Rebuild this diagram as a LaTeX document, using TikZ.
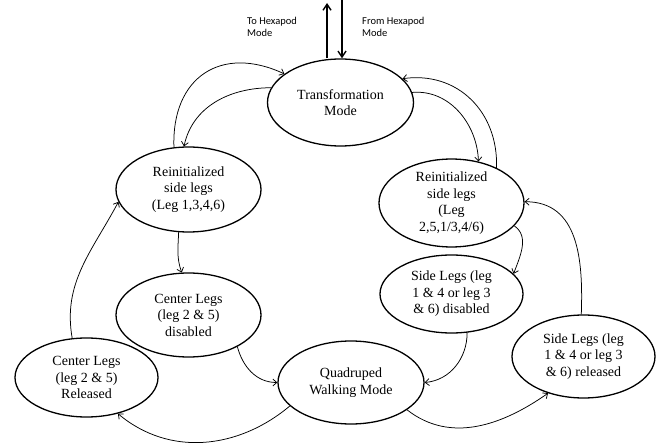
\documentclass[tikz,border=0pt]{standalone}
\usepackage{fontspec}
\setmainfont{Liberation Serif}
\newfontfamily\statefont{Liberation Serif}
\newfontfamily\labelfont{Carlito}
\usetikzlibrary{arrows.meta,shapes.geometric}

\tikzset{
  state/.style={draw, ellipse, line width=1.3pt, inner sep=0pt, align=center,
    font=\statefont\fontsize{14}{16.5}\selectfont},
  link/.style={line width=0.75pt, -{Straight Barb[length=4pt,width=7pt]}},
  modearrow/.style={line width=1.4pt, -{Straight Barb[length=6pt,width=8pt]}},
  modelabel/.style={anchor=north west, inner sep=0pt, align=left,
    font=\labelfont\fontsize{10.5}{12}\selectfont}
}

\begin{document}
\begin{tikzpicture}[x=1pt,y=1pt]
  \useasboundingbox (0,0) rectangle (664,-446);

  % states
  \node[state, minimum width=146pt, minimum height=87pt] (T)  at (340.5,-102.5) {Transformation\\Mode};
  \node[state, minimum width=145pt, minimum height=85pt] (L1) at (188.5,-189.5) {Reinitialized\\side legs\\(Leg 1,3,4,6)};
  \node[state, minimum width=145pt, minimum height=82pt] (R1) at (451.5,-203)   {Reinitialized\\side legs\\(Leg\\2,5,1/3,4/6)};
  \node[state, minimum width=145pt, minimum height=84pt] (C1) at (188.5,-315)   {Center Legs\\(leg 2 \& 5)\\disabled};
  \node[state, minimum width=143pt, minimum height=79pt] (C2) at (86.5,-377.5)  {Center Legs\\(leg 2 \& 5)\\Released};
  \node[state, minimum width=146pt, minimum height=83pt] (Q)  at (351,-382.5)   {Quadruped\\Walking Mode};
  \node[state, minimum width=143pt, minimum height=78pt] (S1) at (451.5,-294)   {Side Legs (leg\\1 \& 4 or leg 3\\\& 6) disabled};
  \node[state, minimum width=143pt, minimum height=83pt] (S2) at (583.5,-356.5)  {Side Legs (leg\\1 \& 4 or leg 3\\\& 6) released};

  % links to and from hexapod mode
  \coordinate (toHex)   at (327,-3);
  \coordinate (fromHex) at (342,0);
  \draw[modearrow] (toHex |- T.north) -- (toHex);
  \draw[modearrow] (fromHex) -- (fromHex |- T.north);
  \node[modelabel] (toLabel)   at (247,-17) {To Hexapod\\Mode};
  \node[modelabel] (fromLabel) at (362,-17) {From Hexapod\\Mode};

  % transitions
  \draw[link] (L1.109) to[out=92, in=155, looseness=1.35] (T.153);
  \draw[link] (T.168)  to[out=180, in=78] (L1.96);
  \draw[link] (T.8)    to[out=5, in=92] (R1.57);
  \draw[link] (R1.38)  to[out=88, in=8, looseness=1.1] (T.21);
  \draw[link] (L1.257) to[out=268, in=110] (C1.99);
  \draw[link] (C1.327) to[out=-75, in=180] (Q.180);
  \draw[link] (Q.201)  to[out=-140, in=-40] (C2.311);
  \draw[link] (C2.110) to[out=100, in=-118] (L1.190);
  \draw[link] (R1.340) to[out=-35, in=70] (S1.18);
  \draw[link] (S1.292) to[out=-90, in=5] (Q.0);
  \draw[link] (Q.334)  to[out=-38, in=-145] (S2.226);
  \draw[link] (S2.93)  to[out=88, in=0, looseness=1.1] (R1.1);
\end{tikzpicture}
\end{document}
